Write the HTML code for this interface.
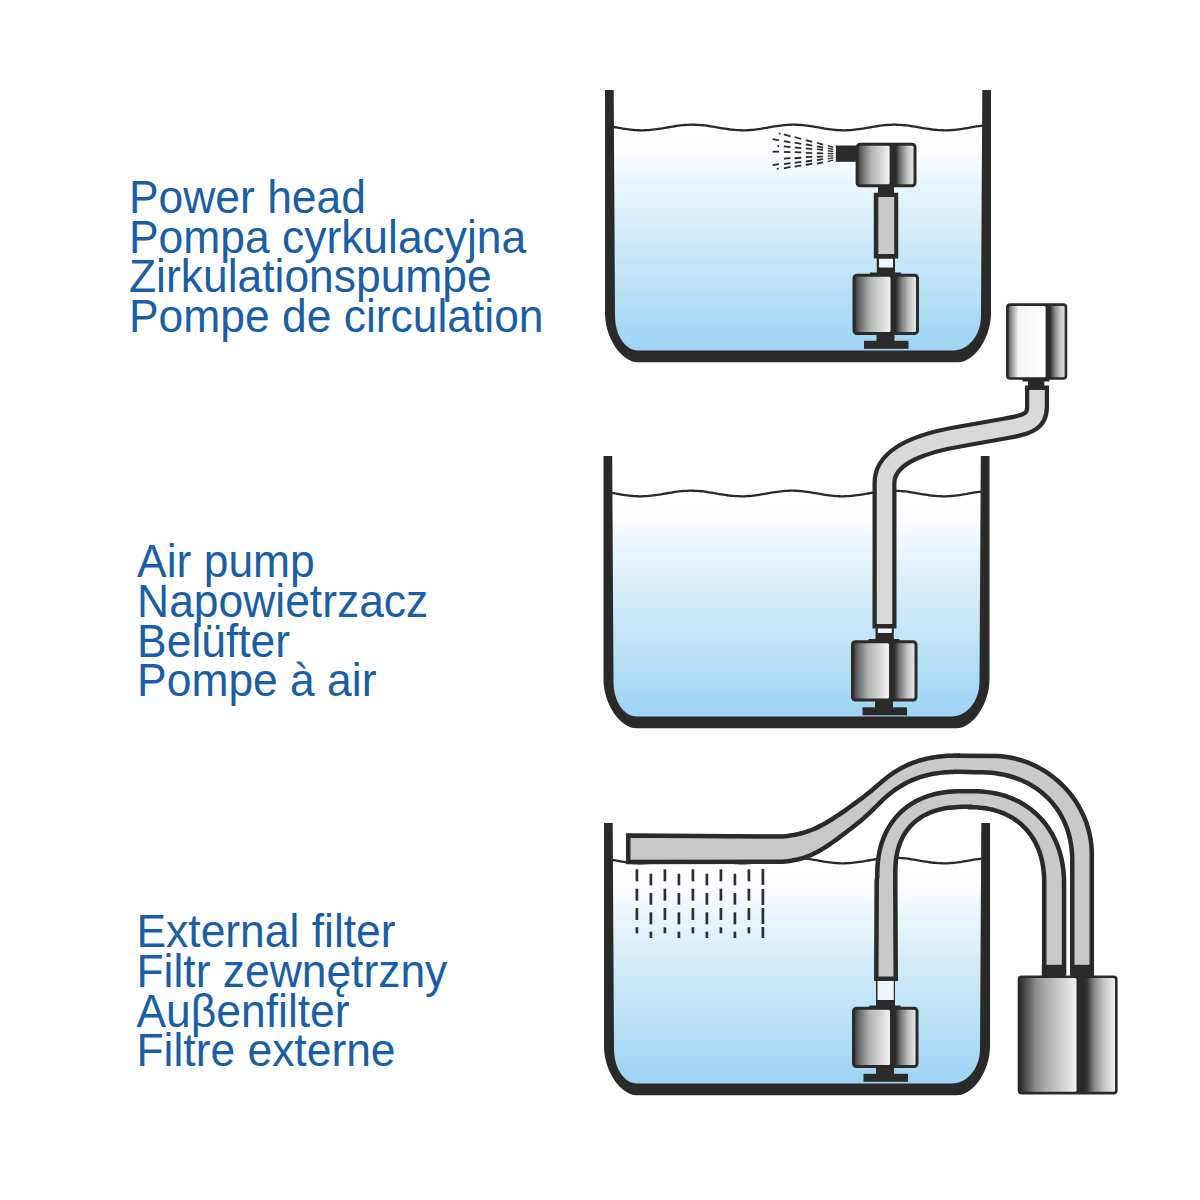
<!DOCTYPE html><html><head><meta charset="utf-8"><style>html,body{margin:0;padding:0;background:#fff;}svg{display:block;} text{font-variant-ligatures:none;}</style></head><body><svg width="1200" height="1200" viewBox="0 0 1200 1200"><defs><linearGradient id="wg1" gradientUnits="userSpaceOnUse" x1="0" y1="135" x2="0" y2="350"><stop offset="0" stop-color="#ffffff"/><stop offset="0.07" stop-color="#fdfeff"/><stop offset="0.19" stop-color="#eef7fc"/><stop offset="0.4" stop-color="#d8eefa"/><stop offset="0.58" stop-color="#c6e6f8"/><stop offset="0.75" stop-color="#b5dff6"/><stop offset="1" stop-color="#9dd4f3"/></linearGradient><linearGradient id="wg2" gradientUnits="userSpaceOnUse" x1="0" y1="501" x2="0" y2="716"><stop offset="0" stop-color="#ffffff"/><stop offset="0.07" stop-color="#fdfeff"/><stop offset="0.19" stop-color="#eef7fc"/><stop offset="0.4" stop-color="#d8eefa"/><stop offset="0.58" stop-color="#c6e6f8"/><stop offset="0.75" stop-color="#b5dff6"/><stop offset="1" stop-color="#9dd4f3"/></linearGradient><linearGradient id="wg3" gradientUnits="userSpaceOnUse" x1="0" y1="868" x2="0" y2="1083"><stop offset="0" stop-color="#ffffff"/><stop offset="0.07" stop-color="#fdfeff"/><stop offset="0.19" stop-color="#eef7fc"/><stop offset="0.4" stop-color="#d8eefa"/><stop offset="0.58" stop-color="#c6e6f8"/><stop offset="0.75" stop-color="#b5dff6"/><stop offset="1" stop-color="#9dd4f3"/></linearGradient><linearGradient id="bl1" gradientUnits="userSpaceOnUse" x1="853.5" y1="0" x2="890.5" y2="0"><stop offset="0" stop-color="#2e2e2e"/><stop offset="0.18" stop-color="#6e6e6e"/><stop offset="0.45" stop-color="#b4b4b4"/><stop offset="0.8" stop-color="#dcdcdc"/><stop offset="1" stop-color="#f4f4f4"/></linearGradient><linearGradient id="br1" gradientUnits="userSpaceOnUse" x1="896" y1="0" x2="918" y2="0"><stop offset="0" stop-color="#2e2e2e"/><stop offset="0.25" stop-color="#7a7a7a"/><stop offset="0.6" stop-color="#c4c4c4"/><stop offset="1" stop-color="#f2f2f2"/></linearGradient><linearGradient id="bl2" gradientUnits="userSpaceOnUse" x1="856.6" y1="0" x2="889.6" y2="0"><stop offset="0" stop-color="#2e2e2e"/><stop offset="0.18" stop-color="#6e6e6e"/><stop offset="0.45" stop-color="#b4b4b4"/><stop offset="0.8" stop-color="#dcdcdc"/><stop offset="1" stop-color="#f4f4f4"/></linearGradient><linearGradient id="br2" gradientUnits="userSpaceOnUse" x1="896" y1="0" x2="915.5" y2="0"><stop offset="0" stop-color="#2e2e2e"/><stop offset="0.25" stop-color="#7a7a7a"/><stop offset="0.6" stop-color="#c4c4c4"/><stop offset="1" stop-color="#f2f2f2"/></linearGradient><linearGradient id="bl3" gradientUnits="userSpaceOnUse" x1="852" y1="0" x2="889" y2="0"><stop offset="0" stop-color="#2e2e2e"/><stop offset="0.18" stop-color="#6e6e6e"/><stop offset="0.45" stop-color="#b4b4b4"/><stop offset="0.8" stop-color="#dcdcdc"/><stop offset="1" stop-color="#f4f4f4"/></linearGradient><linearGradient id="br3" gradientUnits="userSpaceOnUse" x1="894.5" y1="0" x2="916.5" y2="0"><stop offset="0" stop-color="#2e2e2e"/><stop offset="0.25" stop-color="#7a7a7a"/><stop offset="0.6" stop-color="#c4c4c4"/><stop offset="1" stop-color="#f2f2f2"/></linearGradient><linearGradient id="bl4" gradientUnits="userSpaceOnUse" x1="1007" y1="0" x2="1045.6" y2="0"><stop offset="0" stop-color="#3a3a3a"/><stop offset="0.1" stop-color="#8a8a8a"/><stop offset="0.3" stop-color="#f4f4f4"/><stop offset="1" stop-color="#ffffff"/></linearGradient><linearGradient id="br4" gradientUnits="userSpaceOnUse" x1="1050.2" y1="0" x2="1066.25" y2="0"><stop offset="0" stop-color="#2e2e2e"/><stop offset="0.3" stop-color="#8a8a8a"/><stop offset="0.65" stop-color="#c8c8c8"/><stop offset="1" stop-color="#e4e4e4"/></linearGradient><linearGradient id="bl5" gradientUnits="userSpaceOnUse" x1="853" y1="0" x2="890" y2="0"><stop offset="0" stop-color="#2e2e2e"/><stop offset="0.18" stop-color="#6e6e6e"/><stop offset="0.45" stop-color="#b4b4b4"/><stop offset="0.8" stop-color="#dcdcdc"/><stop offset="1" stop-color="#f4f4f4"/></linearGradient><linearGradient id="br5" gradientUnits="userSpaceOnUse" x1="895.5" y1="0" x2="917.5" y2="0"><stop offset="0" stop-color="#2e2e2e"/><stop offset="0.25" stop-color="#7a7a7a"/><stop offset="0.6" stop-color="#c4c4c4"/><stop offset="1" stop-color="#f2f2f2"/></linearGradient><clipPath id="ca"><path d="M874 981 L874.5 880 L875 876.3 L875.06 871.08 L875.25 866.73 L875.56 862.65 L875.99 858.77 L876.55 855.02 L877.23 851.4 L878.03 847.88 L878.95 844.46 L880 841.14 L881.16 837.91 L882.44 834.77 L883.84 831.73 L885.35 828.77 L886.97 825.91 L888.71 823.14 L890.56 820.47 L892.52 817.89 L894.59 815.41 L896.76 813.04 L899.04 810.76 L901.41 808.59 L903.89 806.52 L906.47 804.56 L909.14 802.71 L911.91 800.97 L914.77 799.35 L917.73 797.84 L920.77 796.44 L923.91 795.16 L927.14 794 L930.46 792.95 L933.88 792.03 L937.4 791.23 L941.02 790.55 L944.77 789.99 L948.65 789.56 L952.73 789.25 L957.08 789.06 L962.3 789 L972.4 789 L977.26 789.07 L981.6 789.29 L985.76 789.64 L989.78 790.14 L993.71 790.78 L997.54 791.56 L1001.28 792.48 L1004.94 793.53 L1008.51 794.73 L1012.01 796.06 L1015.42 797.52 L1018.74 799.12 L1021.97 800.84 L1025.11 802.7 L1028.16 804.68 L1031.11 806.78 L1033.96 809.01 L1036.7 811.35 L1039.34 813.81 L1041.88 816.39 L1044.3 819.07 L1046.61 821.86 L1048.8 824.75 L1050.87 827.75 L1052.82 830.85 L1054.64 834.04 L1056.34 837.32 L1057.91 840.7 L1059.35 844.16 L1060.66 847.71 L1061.84 851.34 L1062.88 855.06 L1063.78 858.86 L1064.55 862.75 L1065.18 866.74 L1065.67 870.83 L1066.02 875.05 L1066.23 879.46 L1066.3 884.4 L1066.3 975.5 L1042 975.5 L1042 884.4 L1041.95 879.81 L1041.79 876.02 L1041.53 872.49 L1041.17 869.13 L1040.7 865.89 L1040.13 862.77 L1039.45 859.74 L1038.68 856.81 L1037.8 853.95 L1036.82 851.18 L1035.75 848.49 L1034.57 845.88 L1033.3 843.35 L1031.93 840.9 L1030.47 838.53 L1028.91 836.25 L1027.26 834.05 L1025.52 831.93 L1023.69 829.9 L1021.78 827.95 L1019.77 826.1 L1017.68 824.34 L1015.51 822.67 L1013.25 821.09 L1010.92 819.6 L1008.5 818.22 L1006 816.93 L1003.43 815.74 L1000.77 814.65 L998.04 813.66 L995.23 812.77 L992.33 811.98 L989.34 811.3 L986.26 810.72 L983.07 810.25 L979.75 809.88 L976.27 809.61 L972.53 809.45 L968 809.4 L968 809 L962.6 809.04 L958.61 809.17 L955.03 809.39 L951.69 809.69 L948.54 810.08 L945.54 810.55 L942.67 811.11 L939.9 811.75 L937.24 812.48 L934.67 813.29 L932.2 814.19 L929.81 815.17 L927.51 816.23 L925.29 817.37 L923.16 818.6 L921.1 819.9 L919.13 821.29 L917.25 822.76 L915.44 824.3 L913.72 825.92 L912.08 827.63 L910.53 829.41 L909.06 831.26 L907.67 833.2 L906.38 835.21 L905.16 837.31 L904.04 839.48 L903 841.73 L902.05 844.06 L901.19 846.49 L900.42 849 L899.74 851.6 L899.14 854.32 L898.64 857.15 L898.23 860.12 L897.91 863.26 L897.68 866.64 L897.55 870.41 L897.5 875.5 L897.5 880 L898 981 Z"/></clipPath><clipPath id="co"><path d="M626 833.3 L780 834.37 L782.5 834.18 L785 833.95 L787.5 833.66 L790 833.32 L792.5 832.93 L795 832.47 L797.5 831.94 L800 831.34 L802.5 830.67 L805 829.92 L807.5 829.08 L810 828.16 L812.5 827.15 L815 826.05 L817.5 824.86 L820 823.59 L822.5 822.25 L825 820.83 L827.5 819.35 L830 817.82 L832.5 816.23 L835 814.6 L837.5 812.93 L840 811.22 L842.5 809.48 L845 807.72 L847.5 805.94 L850 804.15 L852.5 802.34 L855 800.53 L857.5 798.69 L860 796.82 L862.5 794.92 L865 792.97 L867.5 790.97 L870 788.91 L872.5 786.78 L875 784.62 L877.5 782.45 L880 780.3 L882.5 778.2 L885 776.19 L887.5 774.27 L890 772.47 L892.5 770.77 L895 769.17 L897.5 767.66 L900 766.26 L902.5 764.94 L905 763.72 L907.5 762.58 L910 761.52 L912.5 760.55 L915 759.65 L917.5 758.83 L920 758.07 L922.5 757.39 L925 756.77 L927.5 756.21 L930 755.71 L932.5 755.27 L935 754.88 L937.5 754.54 L940 754.25 L942.5 754 L945 753.79 L947.5 753.62 L950 753.49 L952.5 753.39 L955 753.31 L957.5 753.27 L960 753.24 L960 753.5 L993.6 753.7 L997.32 753.78 L1001.17 754.03 L1005.06 754.45 L1008.97 755.03 L1012.87 755.77 L1016.76 756.67 L1020.63 757.74 L1024.47 758.96 L1028.27 760.35 L1032.02 761.88 L1035.72 763.57 L1039.35 765.41 L1042.92 767.39 L1046.41 769.51 L1049.81 771.78 L1053.13 774.17 L1056.36 776.7 L1059.48 779.35 L1062.5 782.12 L1065.4 785.01 L1068.19 788.01 L1070.86 791.12 L1073.4 794.32 L1075.82 797.62 L1078.09 801.01 L1080.23 804.48 L1082.22 808.02 L1084.07 811.64 L1085.77 815.31 L1087.31 819.04 L1088.7 822.81 L1089.94 826.63 L1091.01 830.48 L1091.92 834.34 L1092.67 838.22 L1093.25 842.11 L1093.67 845.97 L1093.92 849.8 L1094 853.5 L1094 975.5 L1070 975.5 L1070 861.8 L1069.93 857.28 L1069.73 853.24 L1069.39 849.38 L1068.91 845.64 L1068.3 841.99 L1067.55 838.43 L1066.67 834.95 L1065.66 831.55 L1064.51 828.22 L1063.24 824.98 L1061.83 821.81 L1060.31 818.72 L1058.65 815.71 L1056.87 812.79 L1054.98 809.96 L1052.96 807.22 L1050.83 804.57 L1048.58 802.02 L1046.23 799.56 L1043.76 797.21 L1041.19 794.96 L1038.52 792.81 L1035.74 790.77 L1032.87 788.85 L1029.91 787.04 L1026.85 785.34 L1023.7 783.76 L1020.47 782.3 L1017.15 780.96 L1013.75 779.74 L1010.27 778.65 L1006.71 777.68 L1003.07 776.84 L999.34 776.13 L995.52 775.54 L991.6 775.09 L987.56 774.76 L983.33 774.57 L978.6 774.5 L975 774.5 L960 773.99 L957.5 774.01 L955 774.05 L952.5 774.13 L950 774.24 L947.5 774.39 L945 774.59 L942.5 774.82 L940 775.11 L937.5 775.45 L935 775.84 L932.5 776.3 L930 776.81 L927.5 777.4 L925 778.05 L922.5 778.77 L920 779.58 L917.5 780.46 L915 781.43 L912.5 782.48 L910 783.62 L907.5 784.86 L905 786.2 L902.5 787.64 L900 789.18 L897.5 790.83 L895 792.59 L892.5 794.47 L890 796.46 L887.5 798.58 L885 800.82 L882.5 803.19 L880 805.64 L877.5 808.15 L875 810.66 L872.5 813.14 L870 815.56 L867.5 817.87 L865 820.08 L862.5 822.22 L860 824.28 L857.5 826.29 L855 828.25 L852.5 830.19 L850 832.11 L847.5 834.02 L845 835.93 L842.5 837.82 L840 839.68 L837.5 841.52 L835 843.32 L832.5 845.08 L830 846.79 L827.5 848.44 L825 850.03 L822.5 851.55 L820 852.99 L817.5 854.35 L815 855.62 L812.5 856.79 L810 857.86 L807.5 858.83 L805 859.7 L802.5 860.48 L800 861.17 L797.5 861.77 L795 862.3 L792.5 862.76 L790 863.14 L787.5 863.47 L785 863.73 L782.5 863.95 L780 864.11 L626 864.2 Z"/></clipPath><linearGradient id="bl6" gradientUnits="userSpaceOnUse" x1="1018.7" y1="0" x2="1076.5" y2="0"><stop offset="0" stop-color="#2a2a2a"/><stop offset="0.07" stop-color="#3c3c3c"/><stop offset="0.3" stop-color="#8e8e8e"/><stop offset="0.5" stop-color="#b0b0b0"/><stop offset="0.8" stop-color="#d6d6d6"/><stop offset="1" stop-color="#f0f0f0"/></linearGradient><linearGradient id="br6" gradientUnits="userSpaceOnUse" x1="1082.5" y1="0" x2="1116.6" y2="0"><stop offset="0" stop-color="#2a2a2a"/><stop offset="0.13" stop-color="#333333"/><stop offset="0.35" stop-color="#8a8a8a"/><stop offset="0.62" stop-color="#c2c2c2"/><stop offset="1" stop-color="#f6f6f6"/></linearGradient></defs><rect width="1200" height="1200" fill="#ffffff"/><path d="M612.7 126.8 L614.7 127.14 L616.7 127.49 L618.7 127.84 L620.7 128.18 L622.7 128.51 L624.7 128.83 L626.7 129.12 L628.7 129.4 L630.7 129.64 L632.7 129.84 L634.7 130.02 L636.7 130.15 L638.7 130.24 L640.7 130.29 L642.7 130.3 L644.7 130.26 L646.7 130.18 L648.7 130.06 L650.7 129.9 L652.7 129.7 L654.7 129.47 L656.7 129.21 L658.7 128.92 L660.7 128.61 L662.7 128.28 L664.7 127.94 L666.7 127.6 L668.7 127.25 L670.7 126.9 L672.7 126.57 L674.7 126.25 L676.7 125.95 L678.7 125.67 L680.7 125.42 L682.7 125.2 L684.7 125.02 L686.7 124.88 L688.7 124.78 L690.7 124.72 L692.7 124.7 L694.7 124.73 L696.7 124.8 L698.7 124.91 L700.7 125.06 L702.7 125.25 L704.7 125.47 L706.7 125.72 L708.7 126.01 L710.7 126.31 L712.7 126.63 L714.7 126.97 L716.7 127.32 L718.7 127.67 L720.7 128.01 L722.7 128.35 L724.7 128.67 L726.7 128.98 L728.7 129.26 L730.7 129.52 L732.7 129.74 L734.7 129.93 L736.7 130.09 L738.7 130.2 L740.7 130.27 L742.7 130.3 L744.7 130.28 L746.7 130.23 L748.7 130.13 L750.7 129.98 L752.7 129.81 L754.7 129.59 L756.7 129.34 L758.7 129.07 L760.7 128.77 L762.7 128.45 L764.7 128.11 L766.7 127.77 L768.7 127.42 L770.7 127.07 L772.7 126.73 L774.7 126.41 L776.7 126.09 L778.7 125.81 L780.7 125.54 L782.7 125.31 L784.7 125.11 L786.7 124.95 L788.7 124.82 L790.7 124.74 L792.7 124.7 L794.7 124.71 L796.7 124.76 L798.7 124.85 L800.7 124.98 L802.7 125.15 L804.7 125.35 L806.7 125.59 L808.7 125.86 L810.7 126.16 L812.7 126.47 L814.7 126.8 L816.7 127.14 L818.7 127.49 L820.7 127.84 L822.7 128.18 L824.7 128.51 L826.7 128.83 L828.7 129.12 L830.7 129.4 L832.7 129.64 L834.7 129.84 L836.7 130.02 L838.7 130.15 L840.7 130.24 L842.7 130.29 L844.7 130.3 L846.7 130.26 L848.7 130.18 L850.7 130.06 L852.7 129.9 L854.7 129.7 L856.7 129.47 L858.7 129.21 L860.7 128.92 L862.7 128.61 L864.7 128.28 L866.7 127.94 L868.7 127.6 L870.7 127.25 L872.7 126.9 L874.7 126.57 L876.7 126.25 L878.7 125.95 L880.7 125.67 L882.7 125.42 L884.7 125.2 L886.7 125.02 L888.7 124.88 L890.7 124.78 L892.7 124.72 L894.7 124.7 L896.7 124.73 L898.7 124.8 L900.7 124.91 L902.7 125.06 L904.7 125.25 L906.7 125.47 L908.7 125.72 L910.7 126.01 L912.7 126.31 L914.7 126.63 L916.7 126.97 L918.7 127.32 L920.7 127.67 L922.7 128.01 L924.7 128.35 L926.7 128.67 L928.7 128.98 L930.7 129.26 L932.7 129.52 L934.7 129.74 L936.7 129.93 L938.7 130.09 L940.7 130.2 L942.7 130.27 L944.7 130.3 L946.7 130.28 L948.7 130.23 L950.7 130.13 L952.7 129.98 L954.7 129.81 L956.7 129.59 L958.7 129.34 L960.7 129.07 L962.7 128.77 L964.7 128.45 L966.7 128.11 L968.7 127.77 L970.7 127.42 L972.7 127.07 L974.7 126.73 L976.7 126.41 L978.7 126.09 L980.7 125.81 L982.7 125.54 L982 315.5 C982 335.1 968.68 351.5 953 351.5 L638 351.5 C625.12 351.5 614 335.1 614 315.5 Z" fill="url(#wg1)"/>
<path d="M612.7 126.8 L614.7 127.14 L616.7 127.49 L618.7 127.84 L620.7 128.18 L622.7 128.51 L624.7 128.83 L626.7 129.12 L628.7 129.4 L630.7 129.64 L632.7 129.84 L634.7 130.02 L636.7 130.15 L638.7 130.24 L640.7 130.29 L642.7 130.3 L644.7 130.26 L646.7 130.18 L648.7 130.06 L650.7 129.9 L652.7 129.7 L654.7 129.47 L656.7 129.21 L658.7 128.92 L660.7 128.61 L662.7 128.28 L664.7 127.94 L666.7 127.6 L668.7 127.25 L670.7 126.9 L672.7 126.57 L674.7 126.25 L676.7 125.95 L678.7 125.67 L680.7 125.42 L682.7 125.2 L684.7 125.02 L686.7 124.88 L688.7 124.78 L690.7 124.72 L692.7 124.7 L694.7 124.73 L696.7 124.8 L698.7 124.91 L700.7 125.06 L702.7 125.25 L704.7 125.47 L706.7 125.72 L708.7 126.01 L710.7 126.31 L712.7 126.63 L714.7 126.97 L716.7 127.32 L718.7 127.67 L720.7 128.01 L722.7 128.35 L724.7 128.67 L726.7 128.98 L728.7 129.26 L730.7 129.52 L732.7 129.74 L734.7 129.93 L736.7 130.09 L738.7 130.2 L740.7 130.27 L742.7 130.3 L744.7 130.28 L746.7 130.23 L748.7 130.13 L750.7 129.98 L752.7 129.81 L754.7 129.59 L756.7 129.34 L758.7 129.07 L760.7 128.77 L762.7 128.45 L764.7 128.11 L766.7 127.77 L768.7 127.42 L770.7 127.07 L772.7 126.73 L774.7 126.41 L776.7 126.09 L778.7 125.81 L780.7 125.54 L782.7 125.31 L784.7 125.11 L786.7 124.95 L788.7 124.82 L790.7 124.74 L792.7 124.7 L794.7 124.71 L796.7 124.76 L798.7 124.85 L800.7 124.98 L802.7 125.15 L804.7 125.35 L806.7 125.59 L808.7 125.86 L810.7 126.16 L812.7 126.47 L814.7 126.8 L816.7 127.14 L818.7 127.49 L820.7 127.84 L822.7 128.18 L824.7 128.51 L826.7 128.83 L828.7 129.12 L830.7 129.4 L832.7 129.64 L834.7 129.84 L836.7 130.02 L838.7 130.15 L840.7 130.24 L842.7 130.29 L844.7 130.3 L846.7 130.26 L848.7 130.18 L850.7 130.06 L852.7 129.9 L854.7 129.7 L856.7 129.47 L858.7 129.21 L860.7 128.92 L862.7 128.61 L864.7 128.28 L866.7 127.94 L868.7 127.6 L870.7 127.25 L872.7 126.9 L874.7 126.57 L876.7 126.25 L878.7 125.95 L880.7 125.67 L882.7 125.42 L884.7 125.2 L886.7 125.02 L888.7 124.88 L890.7 124.78 L892.7 124.72 L894.7 124.7 L896.7 124.73 L898.7 124.8 L900.7 124.91 L902.7 125.06 L904.7 125.25 L906.7 125.47 L908.7 125.72 L910.7 126.01 L912.7 126.31 L914.7 126.63 L916.7 126.97 L918.7 127.32 L920.7 127.67 L922.7 128.01 L924.7 128.35 L926.7 128.67 L928.7 128.98 L930.7 129.26 L932.7 129.52 L934.7 129.74 L936.7 129.93 L938.7 130.09 L940.7 130.2 L942.7 130.27 L944.7 130.3 L946.7 130.28 L948.7 130.23 L950.7 130.13 L952.7 129.98 L954.7 129.81 L956.7 129.59 L958.7 129.34 L960.7 129.07 L962.7 128.77 L964.7 128.45 L966.7 128.11 L968.7 127.77 L970.7 127.42 L972.7 127.07 L974.7 126.73 L976.7 126.41 L978.7 126.09 L980.7 125.81 L982.7 125.54" fill="none" stroke="#2a2a28" stroke-width="2.3"/>
<path d="M605 90 L605 313.3 C605 337.8 621.5 362.3 638 362.3 L958 362.3 C974.5 362.3 991 337.8 991 313.3 L991 90 L982.3 90 L981 315.5 C981 335.1 968.68 350.5 953 350.5 L638 350.5 C625.12 350.5 615 335.1 615 315.5 L613.7 90 Z" fill="#2a2a28"/>
<path d="M611.2 492.8 L613.2 493.14 L615.2 493.49 L617.2 493.84 L619.2 494.18 L621.2 494.51 L623.2 494.83 L625.2 495.12 L627.2 495.4 L629.2 495.64 L631.2 495.84 L633.2 496.02 L635.2 496.15 L637.2 496.24 L639.2 496.29 L641.2 496.3 L643.2 496.26 L645.2 496.18 L647.2 496.06 L649.2 495.9 L651.2 495.7 L653.2 495.47 L655.2 495.21 L657.2 494.92 L659.2 494.61 L661.2 494.28 L663.2 493.94 L665.2 493.6 L667.2 493.25 L669.2 492.9 L671.2 492.57 L673.2 492.25 L675.2 491.95 L677.2 491.67 L679.2 491.42 L681.2 491.2 L683.2 491.02 L685.2 490.88 L687.2 490.78 L689.2 490.72 L691.2 490.7 L693.2 490.73 L695.2 490.8 L697.2 490.91 L699.2 491.06 L701.2 491.25 L703.2 491.47 L705.2 491.72 L707.2 492.01 L709.2 492.31 L711.2 492.63 L713.2 492.97 L715.2 493.32 L717.2 493.67 L719.2 494.01 L721.2 494.35 L723.2 494.67 L725.2 494.98 L727.2 495.26 L729.2 495.52 L731.2 495.74 L733.2 495.93 L735.2 496.09 L737.2 496.2 L739.2 496.27 L741.2 496.3 L743.2 496.28 L745.2 496.23 L747.2 496.13 L749.2 495.98 L751.2 495.81 L753.2 495.59 L755.2 495.34 L757.2 495.07 L759.2 494.77 L761.2 494.45 L763.2 494.11 L765.2 493.77 L767.2 493.42 L769.2 493.07 L771.2 492.73 L773.2 492.41 L775.2 492.09 L777.2 491.81 L779.2 491.54 L781.2 491.31 L783.2 491.11 L785.2 490.95 L787.2 490.82 L789.2 490.74 L791.2 490.7 L793.2 490.71 L795.2 490.76 L797.2 490.85 L799.2 490.98 L801.2 491.15 L803.2 491.35 L805.2 491.59 L807.2 491.86 L809.2 492.16 L811.2 492.47 L813.2 492.8 L815.2 493.14 L817.2 493.49 L819.2 493.84 L821.2 494.18 L823.2 494.51 L825.2 494.83 L827.2 495.12 L829.2 495.4 L831.2 495.64 L833.2 495.84 L835.2 496.02 L837.2 496.15 L839.2 496.24 L841.2 496.29 L843.2 496.3 L845.2 496.26 L847.2 496.18 L849.2 496.06 L851.2 495.9 L853.2 495.7 L855.2 495.47 L857.2 495.21 L859.2 494.92 L861.2 494.61 L863.2 494.28 L865.2 493.94 L867.2 493.6 L869.2 493.25 L871.2 492.9 L873.2 492.57 L875.2 492.25 L877.2 491.95 L879.2 491.67 L881.2 491.42 L883.2 491.2 L885.2 491.02 L887.2 490.88 L889.2 490.78 L891.2 490.72 L893.2 490.7 L895.2 490.73 L897.2 490.8 L899.2 490.91 L901.2 491.06 L903.2 491.25 L905.2 491.47 L907.2 491.72 L909.2 492.01 L911.2 492.31 L913.2 492.63 L915.2 492.97 L917.2 493.32 L919.2 493.67 L921.2 494.01 L923.2 494.35 L925.2 494.67 L927.2 494.98 L929.2 495.26 L931.2 495.52 L933.2 495.74 L935.2 495.93 L937.2 496.09 L939.2 496.2 L941.2 496.27 L943.2 496.3 L945.2 496.28 L947.2 496.23 L949.2 496.13 L951.2 495.98 L953.2 495.81 L955.2 495.59 L957.2 495.34 L959.2 495.07 L961.2 494.77 L963.2 494.45 L965.2 494.11 L967.2 493.77 L969.2 493.42 L971.2 493.07 L973.2 492.73 L975.2 492.41 L977.2 492.09 L979.2 491.81 L981.2 491.54 L980.5 681.5 C980.5 701.1 967.18 717.5 951.5 717.5 L636.5 717.5 C623.62 717.5 612.5 701.1 612.5 681.5 Z" fill="url(#wg2)"/>
<path d="M611.2 492.8 L613.2 493.14 L615.2 493.49 L617.2 493.84 L619.2 494.18 L621.2 494.51 L623.2 494.83 L625.2 495.12 L627.2 495.4 L629.2 495.64 L631.2 495.84 L633.2 496.02 L635.2 496.15 L637.2 496.24 L639.2 496.29 L641.2 496.3 L643.2 496.26 L645.2 496.18 L647.2 496.06 L649.2 495.9 L651.2 495.7 L653.2 495.47 L655.2 495.21 L657.2 494.92 L659.2 494.61 L661.2 494.28 L663.2 493.94 L665.2 493.6 L667.2 493.25 L669.2 492.9 L671.2 492.57 L673.2 492.25 L675.2 491.95 L677.2 491.67 L679.2 491.42 L681.2 491.2 L683.2 491.02 L685.2 490.88 L687.2 490.78 L689.2 490.72 L691.2 490.7 L693.2 490.73 L695.2 490.8 L697.2 490.91 L699.2 491.06 L701.2 491.25 L703.2 491.47 L705.2 491.72 L707.2 492.01 L709.2 492.31 L711.2 492.63 L713.2 492.97 L715.2 493.32 L717.2 493.67 L719.2 494.01 L721.2 494.35 L723.2 494.67 L725.2 494.98 L727.2 495.26 L729.2 495.52 L731.2 495.74 L733.2 495.93 L735.2 496.09 L737.2 496.2 L739.2 496.27 L741.2 496.3 L743.2 496.28 L745.2 496.23 L747.2 496.13 L749.2 495.98 L751.2 495.81 L753.2 495.59 L755.2 495.34 L757.2 495.07 L759.2 494.77 L761.2 494.45 L763.2 494.11 L765.2 493.77 L767.2 493.42 L769.2 493.07 L771.2 492.73 L773.2 492.41 L775.2 492.09 L777.2 491.81 L779.2 491.54 L781.2 491.31 L783.2 491.11 L785.2 490.95 L787.2 490.82 L789.2 490.74 L791.2 490.7 L793.2 490.71 L795.2 490.76 L797.2 490.85 L799.2 490.98 L801.2 491.15 L803.2 491.35 L805.2 491.59 L807.2 491.86 L809.2 492.16 L811.2 492.47 L813.2 492.8 L815.2 493.14 L817.2 493.49 L819.2 493.84 L821.2 494.18 L823.2 494.51 L825.2 494.83 L827.2 495.12 L829.2 495.4 L831.2 495.64 L833.2 495.84 L835.2 496.02 L837.2 496.15 L839.2 496.24 L841.2 496.29 L843.2 496.3 L845.2 496.26 L847.2 496.18 L849.2 496.06 L851.2 495.9 L853.2 495.7 L855.2 495.47 L857.2 495.21 L859.2 494.92 L861.2 494.61 L863.2 494.28 L865.2 493.94 L867.2 493.6 L869.2 493.25 L871.2 492.9 L873.2 492.57 L875.2 492.25 L877.2 491.95 L879.2 491.67 L881.2 491.42 L883.2 491.2 L885.2 491.02 L887.2 490.88 L889.2 490.78 L891.2 490.72 L893.2 490.7 L895.2 490.73 L897.2 490.8 L899.2 490.91 L901.2 491.06 L903.2 491.25 L905.2 491.47 L907.2 491.72 L909.2 492.01 L911.2 492.31 L913.2 492.63 L915.2 492.97 L917.2 493.32 L919.2 493.67 L921.2 494.01 L923.2 494.35 L925.2 494.67 L927.2 494.98 L929.2 495.26 L931.2 495.52 L933.2 495.74 L935.2 495.93 L937.2 496.09 L939.2 496.2 L941.2 496.27 L943.2 496.3 L945.2 496.28 L947.2 496.23 L949.2 496.13 L951.2 495.98 L953.2 495.81 L955.2 495.59 L957.2 495.34 L959.2 495.07 L961.2 494.77 L963.2 494.45 L965.2 494.11 L967.2 493.77 L969.2 493.42 L971.2 493.07 L973.2 492.73 L975.2 492.41 L977.2 492.09 L979.2 491.81 L981.2 491.54" fill="none" stroke="#2a2a28" stroke-width="2.3"/>
<path d="M603.5 456 L603.5 679.3 C603.5 703.8 620 728.3 636.5 728.3 L956.5 728.3 C973 728.3 989.5 703.8 989.5 679.3 L989.5 456 L980.8 456 L979.5 681.5 C979.5 701.1 967.18 716.5 951.5 716.5 L636.5 716.5 C623.62 716.5 613.5 701.1 613.5 681.5 L612.2 456 Z" fill="#2a2a28"/>
<path d="M611.7 859.8 L613.7 860.14 L615.7 860.49 L617.7 860.84 L619.7 861.18 L621.7 861.51 L623.7 861.83 L625.7 862.12 L627.7 862.4 L629.7 862.64 L631.7 862.84 L633.7 863.02 L635.7 863.15 L637.7 863.24 L639.7 863.29 L641.7 863.3 L643.7 863.26 L645.7 863.18 L647.7 863.06 L649.7 862.9 L651.7 862.7 L653.7 862.47 L655.7 862.21 L657.7 861.92 L659.7 861.61 L661.7 861.28 L663.7 860.94 L665.7 860.6 L667.7 860.25 L669.7 859.9 L671.7 859.57 L673.7 859.25 L675.7 858.95 L677.7 858.67 L679.7 858.42 L681.7 858.2 L683.7 858.02 L685.7 857.88 L687.7 857.78 L689.7 857.72 L691.7 857.7 L693.7 857.73 L695.7 857.8 L697.7 857.91 L699.7 858.06 L701.7 858.25 L703.7 858.47 L705.7 858.72 L707.7 859.01 L709.7 859.31 L711.7 859.63 L713.7 859.97 L715.7 860.32 L717.7 860.67 L719.7 861.01 L721.7 861.35 L723.7 861.67 L725.7 861.98 L727.7 862.26 L729.7 862.52 L731.7 862.74 L733.7 862.93 L735.7 863.09 L737.7 863.2 L739.7 863.27 L741.7 863.3 L743.7 863.28 L745.7 863.23 L747.7 863.13 L749.7 862.98 L751.7 862.81 L753.7 862.59 L755.7 862.34 L757.7 862.07 L759.7 861.77 L761.7 861.45 L763.7 861.11 L765.7 860.77 L767.7 860.42 L769.7 860.07 L771.7 859.73 L773.7 859.41 L775.7 859.09 L777.7 858.81 L779.7 858.54 L781.7 858.31 L783.7 858.11 L785.7 857.95 L787.7 857.82 L789.7 857.74 L791.7 857.7 L793.7 857.71 L795.7 857.76 L797.7 857.85 L799.7 857.98 L801.7 858.15 L803.7 858.35 L805.7 858.59 L807.7 858.86 L809.7 859.16 L811.7 859.47 L813.7 859.8 L815.7 860.14 L817.7 860.49 L819.7 860.84 L821.7 861.18 L823.7 861.51 L825.7 861.83 L827.7 862.12 L829.7 862.4 L831.7 862.64 L833.7 862.84 L835.7 863.02 L837.7 863.15 L839.7 863.24 L841.7 863.29 L843.7 863.3 L845.7 863.26 L847.7 863.18 L849.7 863.06 L851.7 862.9 L853.7 862.7 L855.7 862.47 L857.7 862.21 L859.7 861.92 L861.7 861.61 L863.7 861.28 L865.7 860.94 L867.7 860.6 L869.7 860.25 L871.7 859.9 L873.7 859.57 L875.7 859.25 L877.7 858.95 L879.7 858.67 L881.7 858.42 L883.7 858.2 L885.7 858.02 L887.7 857.88 L889.7 857.78 L891.7 857.72 L893.7 857.7 L895.7 857.73 L897.7 857.8 L899.7 857.91 L901.7 858.06 L903.7 858.25 L905.7 858.47 L907.7 858.72 L909.7 859.01 L911.7 859.31 L913.7 859.63 L915.7 859.97 L917.7 860.32 L919.7 860.67 L921.7 861.01 L923.7 861.35 L925.7 861.67 L927.7 861.98 L929.7 862.26 L931.7 862.52 L933.7 862.74 L935.7 862.93 L937.7 863.09 L939.7 863.2 L941.7 863.27 L943.7 863.3 L945.7 863.28 L947.7 863.23 L949.7 863.13 L951.7 862.98 L953.7 862.81 L955.7 862.59 L957.7 862.34 L959.7 862.07 L961.7 861.77 L963.7 861.45 L965.7 861.11 L967.7 860.77 L969.7 860.42 L971.7 860.07 L973.7 859.73 L975.7 859.41 L977.7 859.09 L979.7 858.81 L981.7 858.54 L981 1048.5 C981 1068.1 967.68 1084.5 952 1084.5 L637 1084.5 C624.12 1084.5 613 1068.1 613 1048.5 Z" fill="url(#wg3)"/>
<path d="M611.7 859.8 L613.7 860.14 L615.7 860.49 L617.7 860.84 L619.7 861.18 L621.7 861.51 L623.7 861.83 L625.7 862.12 L627.7 862.4 L629.7 862.64 L631.7 862.84 L633.7 863.02 L635.7 863.15 L637.7 863.24 L639.7 863.29 L641.7 863.3 L643.7 863.26 L645.7 863.18 L647.7 863.06 L649.7 862.9 L651.7 862.7 L653.7 862.47 L655.7 862.21 L657.7 861.92 L659.7 861.61 L661.7 861.28 L663.7 860.94 L665.7 860.6 L667.7 860.25 L669.7 859.9 L671.7 859.57 L673.7 859.25 L675.7 858.95 L677.7 858.67 L679.7 858.42 L681.7 858.2 L683.7 858.02 L685.7 857.88 L687.7 857.78 L689.7 857.72 L691.7 857.7 L693.7 857.73 L695.7 857.8 L697.7 857.91 L699.7 858.06 L701.7 858.25 L703.7 858.47 L705.7 858.72 L707.7 859.01 L709.7 859.31 L711.7 859.63 L713.7 859.97 L715.7 860.32 L717.7 860.67 L719.7 861.01 L721.7 861.35 L723.7 861.67 L725.7 861.98 L727.7 862.26 L729.7 862.52 L731.7 862.74 L733.7 862.93 L735.7 863.09 L737.7 863.2 L739.7 863.27 L741.7 863.3 L743.7 863.28 L745.7 863.23 L747.7 863.13 L749.7 862.98 L751.7 862.81 L753.7 862.59 L755.7 862.34 L757.7 862.07 L759.7 861.77 L761.7 861.45 L763.7 861.11 L765.7 860.77 L767.7 860.42 L769.7 860.07 L771.7 859.73 L773.7 859.41 L775.7 859.09 L777.7 858.81 L779.7 858.54 L781.7 858.31 L783.7 858.11 L785.7 857.95 L787.7 857.82 L789.7 857.74 L791.7 857.7 L793.7 857.71 L795.7 857.76 L797.7 857.85 L799.7 857.98 L801.7 858.15 L803.7 858.35 L805.7 858.59 L807.7 858.86 L809.7 859.16 L811.7 859.47 L813.7 859.8 L815.7 860.14 L817.7 860.49 L819.7 860.84 L821.7 861.18 L823.7 861.51 L825.7 861.83 L827.7 862.12 L829.7 862.4 L831.7 862.64 L833.7 862.84 L835.7 863.02 L837.7 863.15 L839.7 863.24 L841.7 863.29 L843.7 863.3 L845.7 863.26 L847.7 863.18 L849.7 863.06 L851.7 862.9 L853.7 862.7 L855.7 862.47 L857.7 862.21 L859.7 861.92 L861.7 861.61 L863.7 861.28 L865.7 860.94 L867.7 860.6 L869.7 860.25 L871.7 859.9 L873.7 859.57 L875.7 859.25 L877.7 858.95 L879.7 858.67 L881.7 858.42 L883.7 858.2 L885.7 858.02 L887.7 857.88 L889.7 857.78 L891.7 857.72 L893.7 857.7 L895.7 857.73 L897.7 857.8 L899.7 857.91 L901.7 858.06 L903.7 858.25 L905.7 858.47 L907.7 858.72 L909.7 859.01 L911.7 859.31 L913.7 859.63 L915.7 859.97 L917.7 860.32 L919.7 860.67 L921.7 861.01 L923.7 861.35 L925.7 861.67 L927.7 861.98 L929.7 862.26 L931.7 862.52 L933.7 862.74 L935.7 862.93 L937.7 863.09 L939.7 863.2 L941.7 863.27 L943.7 863.3 L945.7 863.28 L947.7 863.23 L949.7 863.13 L951.7 862.98 L953.7 862.81 L955.7 862.59 L957.7 862.34 L959.7 862.07 L961.7 861.77 L963.7 861.45 L965.7 861.11 L967.7 860.77 L969.7 860.42 L971.7 860.07 L973.7 859.73 L975.7 859.41 L977.7 859.09 L979.7 858.81 L981.7 858.54" fill="none" stroke="#2a2a28" stroke-width="2.3"/>
<path d="M604 823 L604 1046.3 C604 1070.8 620.5 1095.3 637 1095.3 L957 1095.3 C973.5 1095.3 990 1070.8 990 1046.3 L990 823 L981.3 823 L980 1048.5 C980 1068.1 967.68 1083.5 952 1083.5 L637 1083.5 C624.12 1083.5 614 1068.1 614 1048.5 L612.7 823 Z" fill="#2a2a28"/>
<rect x="852.5" y="273.75" width="66.5" height="61.25" rx="4.5" fill="#2a2a28"/>
<rect x="855.5" y="276.75" width="35" height="55.25" rx="1.5" fill="url(#bl1)"/>
<rect x="896" y="276.75" width="20" height="55.25" rx="1.5" fill="url(#br1)"/>
<rect x="870" y="272.5" width="31" height="2.5" fill="#2a2a28" />
<rect x="876.5" y="334" width="18" height="7.5" fill="#2a2a28" />
<rect x="864" y="340.8" width="44.5" height="8" fill="#2a2a28" />
<rect x="876.8" y="256" width="18.2" height="18" fill="#2a2a28" />
<rect x="879" y="258.5" width="14" height="9" fill="#eef6fb" />
<rect x="873.8" y="192.75" width="24.4" height="65.75" fill="#2a2a28" />
<rect x="878.3" y="197" width="15.9" height="57" fill="#c9c9c9" />
<rect x="878" y="185" width="16" height="9" fill="#2a2a28" />
<rect x="835.8" y="145.5" width="22.2" height="16.3" fill="#2a2a28" />
<rect x="855.6" y="142.7" width="60.9" height="44.6" rx="4.5" fill="#2a2a28"/>
<rect x="858.6" y="145.7" width="31" height="38.6" rx="1.5" fill="url(#bl2)"/>
<rect x="896" y="145.7" width="17.5" height="38.6" rx="1.5" fill="url(#br2)"/>
<line x1="827.75" y1="145.68" x2="833.25" y2="147.32" stroke="#2a2a28" stroke-width="1.3"/>
<line x1="827.75" y1="148.25" x2="833.25" y2="149.35" stroke="#2a2a28" stroke-width="1.3"/>
<line x1="827.75" y1="150.9" x2="833.25" y2="151.5" stroke="#2a2a28" stroke-width="1.3"/>
<line x1="827.75" y1="153.52" x2="833.25" y2="153.68" stroke="#2a2a28" stroke-width="1.3"/>
<line x1="827.75" y1="156.19" x2="833.25" y2="155.81" stroke="#2a2a28" stroke-width="1.3"/>
<line x1="827.75" y1="158.84" x2="833.25" y2="157.96" stroke="#2a2a28" stroke-width="1.3"/>
<line x1="827.75" y1="161.41" x2="833.25" y2="160.2" stroke="#2a2a28" stroke-width="1.3"/>
<line x1="816.9" y1="142.77" x2="823.1" y2="144.63" stroke="#2a2a28" stroke-width="1.7"/>
<line x1="816.9" y1="146.38" x2="823.1" y2="147.62" stroke="#2a2a28" stroke-width="1.7"/>
<line x1="816.9" y1="149.26" x2="823.1" y2="149.94" stroke="#2a2a28" stroke-width="1.7"/>
<line x1="816.9" y1="153.21" x2="823.1" y2="153.39" stroke="#2a2a28" stroke-width="1.7"/>
<line x1="816.9" y1="156.92" x2="823.1" y2="156.48" stroke="#2a2a28" stroke-width="1.7"/>
<line x1="816.9" y1="160.2" x2="823.1" y2="159.2" stroke="#2a2a28" stroke-width="1.7"/>
<line x1="816.9" y1="163.68" x2="823.1" y2="162.32" stroke="#2a2a28" stroke-width="1.7"/>
<line x1="805.8" y1="140.04" x2="812.2" y2="141.96" stroke="#2a2a28" stroke-width="1.8"/>
<line x1="805.8" y1="144.36" x2="812.2" y2="145.64" stroke="#2a2a28" stroke-width="1.8"/>
<line x1="805.8" y1="148.35" x2="812.2" y2="149.05" stroke="#2a2a28" stroke-width="1.8"/>
<line x1="805.8" y1="152.9" x2="812.2" y2="153.1" stroke="#2a2a28" stroke-width="1.8"/>
<line x1="805.8" y1="157.22" x2="812.2" y2="156.78" stroke="#2a2a28" stroke-width="1.8"/>
<line x1="805.8" y1="161.51" x2="812.2" y2="160.49" stroke="#2a2a28" stroke-width="1.8"/>
<line x1="805.8" y1="165" x2="812.2" y2="163.6" stroke="#2a2a28" stroke-width="1.8"/>
<line x1="794.7" y1="137.01" x2="801.3" y2="138.99" stroke="#2a2a28" stroke-width="1.8"/>
<line x1="794.7" y1="142.64" x2="801.3" y2="143.96" stroke="#2a2a28" stroke-width="1.8"/>
<line x1="794.7" y1="147.34" x2="801.3" y2="148.06" stroke="#2a2a28" stroke-width="1.8"/>
<line x1="794.7" y1="152.2" x2="801.3" y2="152.4" stroke="#2a2a28" stroke-width="1.8"/>
<line x1="794.7" y1="158.23" x2="801.3" y2="157.77" stroke="#2a2a28" stroke-width="1.8"/>
<line x1="794.7" y1="162.83" x2="801.3" y2="161.77" stroke="#2a2a28" stroke-width="1.8"/>
<line x1="794.7" y1="166.73" x2="801.3" y2="165.27" stroke="#2a2a28" stroke-width="1.8"/>
<line x1="783.9" y1="134.31" x2="790.5" y2="136.29" stroke="#2a2a28" stroke-width="1.8"/>
<line x1="783.9" y1="141.04" x2="790.5" y2="142.36" stroke="#2a2a28" stroke-width="1.8"/>
<line x1="783.9" y1="146.34" x2="790.5" y2="147.06" stroke="#2a2a28" stroke-width="1.8"/>
<line x1="783.9" y1="151.9" x2="790.5" y2="152.1" stroke="#2a2a28" stroke-width="1.8"/>
<line x1="783.9" y1="158.53" x2="790.5" y2="158.07" stroke="#2a2a28" stroke-width="1.8"/>
<line x1="783.9" y1="164.23" x2="790.5" y2="163.17" stroke="#2a2a28" stroke-width="1.8"/>
<line x1="783.9" y1="168.43" x2="790.5" y2="166.97" stroke="#2a2a28" stroke-width="1.8"/>
<line x1="778.9" y1="133.46" x2="780.5" y2="133.94" stroke="#2a2a28" stroke-width="1.8"/>
<line x1="772.6" y1="139.06" x2="779" y2="140.34" stroke="#2a2a28" stroke-width="1.8"/>
<line x1="777.5" y1="145.92" x2="779.1" y2="146.08" stroke="#2a2a28" stroke-width="1.8"/>
<line x1="772.6" y1="151.7" x2="779" y2="151.7" stroke="#2a2a28" stroke-width="1.8"/>
<line x1="772.6" y1="165.21" x2="779" y2="164.19" stroke="#2a2a28" stroke-width="1.8"/>
<line x1="776.8" y1="168.88" x2="778.6" y2="168.52" stroke="#2a2a28" stroke-width="1.8"/>
<rect x="851" y="640.25" width="66.5" height="61.25" rx="4.5" fill="#2a2a28"/>
<rect x="854" y="643.25" width="35" height="55.25" rx="1.5" fill="url(#bl3)"/>
<rect x="894.5" y="643.25" width="20" height="55.25" rx="1.5" fill="url(#br3)"/>
<rect x="868.5" y="639" width="31" height="2.5" fill="#2a2a28" />
<rect x="875" y="700.5" width="18" height="7.5" fill="#2a2a28" />
<rect x="862.5" y="707.3" width="44.5" height="8" fill="#2a2a28" />
<rect x="875.5" y="626" width="18.3" height="15" fill="#2a2a28" />
<rect x="877.8" y="628" width="14" height="5" fill="#eef6fb" />
<path d="M1037 385.5 L1037 407 C1037 420 1030 424.5 1005 428.5 L960 436.5 C930 441.5 884.5 453 884.5 483 L884.5 628.5" fill="none" stroke="#2a2a28" stroke-width="24"/>
<path d="M1037 390 L1037 407 C1037 420 1030 424.5 1005 428.5 L960 436.5 C930 441.5 884.5 453 884.5 483 L884.5 624" fill="none" stroke="#d9d9d9" stroke-width="15.5"/>
<rect x="1028" y="378" width="16.3" height="9" fill="#2a2a28" />
<rect x="1022.5" y="378.5" width="27" height="3" fill="#2a2a28" />
<rect x="1006" y="303.3" width="61.25" height="76.45" rx="4" fill="#2a2a28"/>
<rect x="1008.6" y="305.9" width="37" height="71.25" rx="1.5" fill="url(#bl4)"/>
<rect x="1050.2" y="305.9" width="14.45" height="71.25" rx="1.5" fill="url(#br4)"/>
<rect x="852" y="1006.75" width="66.5" height="61.25" rx="4.5" fill="#2a2a28"/>
<rect x="855" y="1009.75" width="35" height="55.25" rx="1.5" fill="url(#bl5)"/>
<rect x="895.5" y="1009.75" width="20" height="55.25" rx="1.5" fill="url(#br5)"/>
<rect x="869.5" y="1005.5" width="31" height="2.5" fill="#2a2a28" />
<rect x="876" y="1067" width="18" height="7.5" fill="#2a2a28" />
<rect x="863.5" y="1073.8" width="44.5" height="8" fill="#2a2a28" />
<rect x="876" y="978" width="19" height="30" fill="#2a2a28" />
<rect x="877.5" y="980.6" width="16.25" height="19.4" fill="#eef6fb" />
<path d="M874 981 L874.5 880 L875 876.3 L875.06 871.08 L875.25 866.73 L875.56 862.65 L875.99 858.77 L876.55 855.02 L877.23 851.4 L878.03 847.88 L878.95 844.46 L880 841.14 L881.16 837.91 L882.44 834.77 L883.84 831.73 L885.35 828.77 L886.97 825.91 L888.71 823.14 L890.56 820.47 L892.52 817.89 L894.59 815.41 L896.76 813.04 L899.04 810.76 L901.41 808.59 L903.89 806.52 L906.47 804.56 L909.14 802.71 L911.91 800.97 L914.77 799.35 L917.73 797.84 L920.77 796.44 L923.91 795.16 L927.14 794 L930.46 792.95 L933.88 792.03 L937.4 791.23 L941.02 790.55 L944.77 789.99 L948.65 789.56 L952.73 789.25 L957.08 789.06 L962.3 789 L972.4 789 L977.26 789.07 L981.6 789.29 L985.76 789.64 L989.78 790.14 L993.71 790.78 L997.54 791.56 L1001.28 792.48 L1004.94 793.53 L1008.51 794.73 L1012.01 796.06 L1015.42 797.52 L1018.74 799.12 L1021.97 800.84 L1025.11 802.7 L1028.16 804.68 L1031.11 806.78 L1033.96 809.01 L1036.7 811.35 L1039.34 813.81 L1041.88 816.39 L1044.3 819.07 L1046.61 821.86 L1048.8 824.75 L1050.87 827.75 L1052.82 830.85 L1054.64 834.04 L1056.34 837.32 L1057.91 840.7 L1059.35 844.16 L1060.66 847.71 L1061.84 851.34 L1062.88 855.06 L1063.78 858.86 L1064.55 862.75 L1065.18 866.74 L1065.67 870.83 L1066.02 875.05 L1066.23 879.46 L1066.3 884.4 L1066.3 975.5 L1042 975.5 L1042 884.4 L1041.95 879.81 L1041.79 876.02 L1041.53 872.49 L1041.17 869.13 L1040.7 865.89 L1040.13 862.77 L1039.45 859.74 L1038.68 856.81 L1037.8 853.95 L1036.82 851.18 L1035.75 848.49 L1034.57 845.88 L1033.3 843.35 L1031.93 840.9 L1030.47 838.53 L1028.91 836.25 L1027.26 834.05 L1025.52 831.93 L1023.69 829.9 L1021.78 827.95 L1019.77 826.1 L1017.68 824.34 L1015.51 822.67 L1013.25 821.09 L1010.92 819.6 L1008.5 818.22 L1006 816.93 L1003.43 815.74 L1000.77 814.65 L998.04 813.66 L995.23 812.77 L992.33 811.98 L989.34 811.3 L986.26 810.72 L983.07 810.25 L979.75 809.88 L976.27 809.61 L972.53 809.45 L968 809.4 L968 809 L962.6 809.04 L958.61 809.17 L955.03 809.39 L951.69 809.69 L948.54 810.08 L945.54 810.55 L942.67 811.11 L939.9 811.75 L937.24 812.48 L934.67 813.29 L932.2 814.19 L929.81 815.17 L927.51 816.23 L925.29 817.37 L923.16 818.6 L921.1 819.9 L919.13 821.29 L917.25 822.76 L915.44 824.3 L913.72 825.92 L912.08 827.63 L910.53 829.41 L909.06 831.26 L907.67 833.2 L906.38 835.21 L905.16 837.31 L904.04 839.48 L903 841.73 L902.05 844.06 L901.19 846.49 L900.42 849 L899.74 851.6 L899.14 854.32 L898.64 857.15 L898.23 860.12 L897.91 863.26 L897.68 866.64 L897.55 870.41 L897.5 875.5 L897.5 880 L898 981 Z" fill="#c9c9c9" stroke="#2a2a28" stroke-width="9" clip-path="url(#ca)"/>
<path d="M626 833.3 L780 834.37 L782.5 834.18 L785 833.95 L787.5 833.66 L790 833.32 L792.5 832.93 L795 832.47 L797.5 831.94 L800 831.34 L802.5 830.67 L805 829.92 L807.5 829.08 L810 828.16 L812.5 827.15 L815 826.05 L817.5 824.86 L820 823.59 L822.5 822.25 L825 820.83 L827.5 819.35 L830 817.82 L832.5 816.23 L835 814.6 L837.5 812.93 L840 811.22 L842.5 809.48 L845 807.72 L847.5 805.94 L850 804.15 L852.5 802.34 L855 800.53 L857.5 798.69 L860 796.82 L862.5 794.92 L865 792.97 L867.5 790.97 L870 788.91 L872.5 786.78 L875 784.62 L877.5 782.45 L880 780.3 L882.5 778.2 L885 776.19 L887.5 774.27 L890 772.47 L892.5 770.77 L895 769.17 L897.5 767.66 L900 766.26 L902.5 764.94 L905 763.72 L907.5 762.58 L910 761.52 L912.5 760.55 L915 759.65 L917.5 758.83 L920 758.07 L922.5 757.39 L925 756.77 L927.5 756.21 L930 755.71 L932.5 755.27 L935 754.88 L937.5 754.54 L940 754.25 L942.5 754 L945 753.79 L947.5 753.62 L950 753.49 L952.5 753.39 L955 753.31 L957.5 753.27 L960 753.24 L960 753.5 L993.6 753.7 L997.32 753.78 L1001.17 754.03 L1005.06 754.45 L1008.97 755.03 L1012.87 755.77 L1016.76 756.67 L1020.63 757.74 L1024.47 758.96 L1028.27 760.35 L1032.02 761.88 L1035.72 763.57 L1039.35 765.41 L1042.92 767.39 L1046.41 769.51 L1049.81 771.78 L1053.13 774.17 L1056.36 776.7 L1059.48 779.35 L1062.5 782.12 L1065.4 785.01 L1068.19 788.01 L1070.86 791.12 L1073.4 794.32 L1075.82 797.62 L1078.09 801.01 L1080.23 804.48 L1082.22 808.02 L1084.07 811.64 L1085.77 815.31 L1087.31 819.04 L1088.7 822.81 L1089.94 826.63 L1091.01 830.48 L1091.92 834.34 L1092.67 838.22 L1093.25 842.11 L1093.67 845.97 L1093.92 849.8 L1094 853.5 L1094 975.5 L1070 975.5 L1070 861.8 L1069.93 857.28 L1069.73 853.24 L1069.39 849.38 L1068.91 845.64 L1068.3 841.99 L1067.55 838.43 L1066.67 834.95 L1065.66 831.55 L1064.51 828.22 L1063.24 824.98 L1061.83 821.81 L1060.31 818.72 L1058.65 815.71 L1056.87 812.79 L1054.98 809.96 L1052.96 807.22 L1050.83 804.57 L1048.58 802.02 L1046.23 799.56 L1043.76 797.21 L1041.19 794.96 L1038.52 792.81 L1035.74 790.77 L1032.87 788.85 L1029.91 787.04 L1026.85 785.34 L1023.7 783.76 L1020.47 782.3 L1017.15 780.96 L1013.75 779.74 L1010.27 778.65 L1006.71 777.68 L1003.07 776.84 L999.34 776.13 L995.52 775.54 L991.6 775.09 L987.56 774.76 L983.33 774.57 L978.6 774.5 L975 774.5 L960 773.99 L957.5 774.01 L955 774.05 L952.5 774.13 L950 774.24 L947.5 774.39 L945 774.59 L942.5 774.82 L940 775.11 L937.5 775.45 L935 775.84 L932.5 776.3 L930 776.81 L927.5 777.4 L925 778.05 L922.5 778.77 L920 779.58 L917.5 780.46 L915 781.43 L912.5 782.48 L910 783.62 L907.5 784.86 L905 786.2 L902.5 787.64 L900 789.18 L897.5 790.83 L895 792.59 L892.5 794.47 L890 796.46 L887.5 798.58 L885 800.82 L882.5 803.19 L880 805.64 L877.5 808.15 L875 810.66 L872.5 813.14 L870 815.56 L867.5 817.87 L865 820.08 L862.5 822.22 L860 824.28 L857.5 826.29 L855 828.25 L852.5 830.19 L850 832.11 L847.5 834.02 L845 835.93 L842.5 837.82 L840 839.68 L837.5 841.52 L835 843.32 L832.5 845.08 L830 846.79 L827.5 848.44 L825 850.03 L822.5 851.55 L820 852.99 L817.5 854.35 L815 855.62 L812.5 856.79 L810 857.86 L807.5 858.83 L805 859.7 L802.5 860.48 L800 861.17 L797.5 861.77 L795 862.3 L792.5 862.76 L790 863.14 L787.5 863.47 L785 863.73 L782.5 863.95 L780 864.11 L626 864.2 Z" fill="#c9c9c9" stroke="#2a2a28" stroke-width="9" clip-path="url(#co)"/>
<rect x="1041.8" y="964.8" width="23.2" height="12.2" fill="#2a2a28" />
<rect x="1071" y="964.8" width="22.8" height="12.2" fill="#2a2a28" />
<rect x="1017.7" y="975.4" width="99.9" height="119" rx="4" fill="#2a2a28"/>
<rect x="1020.3" y="978" width="56.2" height="113.8" rx="1.5" fill="url(#bl6)"/>
<rect x="1082.5" y="978" width="32.5" height="113.8" rx="1.5" fill="url(#br6)"/>
<rect x="635.55" y="869.3" width="2.7" height="12" fill="#2b3033"/>
<rect x="635.55" y="888.7" width="2.7" height="12" fill="#2b3033"/>
<rect x="635.55" y="908" width="2.7" height="12" fill="#2b3033"/>
<rect x="635.55" y="927.3" width="2.7" height="6" fill="#2b3033"/>
<rect x="649.55" y="873.7" width="2.7" height="11.6" fill="#2b3033"/>
<rect x="649.55" y="893" width="2.7" height="11.7" fill="#2b3033"/>
<rect x="649.55" y="912.3" width="2.7" height="12" fill="#2b3033"/>
<rect x="649.55" y="931.7" width="2.7" height="6.3" fill="#2b3033"/>
<rect x="663.55" y="869.3" width="2.7" height="12" fill="#2b3033"/>
<rect x="663.55" y="888.7" width="2.7" height="12" fill="#2b3033"/>
<rect x="663.55" y="908" width="2.7" height="12" fill="#2b3033"/>
<rect x="663.55" y="927.3" width="2.7" height="6" fill="#2b3033"/>
<rect x="677.55" y="873.7" width="2.7" height="11.6" fill="#2b3033"/>
<rect x="677.55" y="893" width="2.7" height="11.7" fill="#2b3033"/>
<rect x="677.55" y="912.3" width="2.7" height="12" fill="#2b3033"/>
<rect x="677.55" y="931.7" width="2.7" height="6.3" fill="#2b3033"/>
<rect x="691.55" y="869.3" width="2.7" height="12" fill="#2b3033"/>
<rect x="691.55" y="888.7" width="2.7" height="12" fill="#2b3033"/>
<rect x="691.55" y="908" width="2.7" height="12" fill="#2b3033"/>
<rect x="691.55" y="927.3" width="2.7" height="6" fill="#2b3033"/>
<rect x="705.55" y="873.7" width="2.7" height="11.6" fill="#2b3033"/>
<rect x="705.55" y="893" width="2.7" height="11.7" fill="#2b3033"/>
<rect x="705.55" y="912.3" width="2.7" height="12" fill="#2b3033"/>
<rect x="705.55" y="931.7" width="2.7" height="6.3" fill="#2b3033"/>
<rect x="719.55" y="869.3" width="2.7" height="12" fill="#2b3033"/>
<rect x="719.55" y="888.7" width="2.7" height="12" fill="#2b3033"/>
<rect x="719.55" y="908" width="2.7" height="12" fill="#2b3033"/>
<rect x="719.55" y="927.3" width="2.7" height="6" fill="#2b3033"/>
<rect x="733.55" y="873.7" width="2.7" height="11.6" fill="#2b3033"/>
<rect x="733.55" y="893" width="2.7" height="11.7" fill="#2b3033"/>
<rect x="733.55" y="912.3" width="2.7" height="12" fill="#2b3033"/>
<rect x="733.55" y="931.7" width="2.7" height="6.3" fill="#2b3033"/>
<rect x="747.55" y="869.3" width="2.7" height="12" fill="#2b3033"/>
<rect x="747.55" y="888.7" width="2.7" height="12" fill="#2b3033"/>
<rect x="747.55" y="908" width="2.7" height="12" fill="#2b3033"/>
<rect x="747.55" y="927.3" width="2.7" height="6" fill="#2b3033"/>
<rect x="761.55" y="869" width="2.7" height="16" fill="#2b3033"/>
<rect x="761.55" y="889" width="2.7" height="16" fill="#2b3033"/>
<rect x="761.55" y="908" width="2.7" height="16" fill="#2b3033"/>
<rect x="761.55" y="927" width="2.7" height="11" fill="#2b3033"/>
<text transform="translate(129 213.1) scale(1 1.03)" fill="#1a5ea6" font-family="Liberation Sans, sans-serif" font-size="44.4">Power head</text>
<text transform="translate(129 252.8) scale(1 1.03)" fill="#1a5ea6" font-family="Liberation Sans, sans-serif" font-size="44.4">Pompa cyrkulacyjna</text>
<text transform="translate(129 292.4) scale(1 1.03)" fill="#1a5ea6" font-family="Liberation Sans, sans-serif" font-size="44.4">Zirkulationspumpe</text>
<text transform="translate(129 332.1) scale(1 1.03)" fill="#1a5ea6" font-family="Liberation Sans, sans-serif" font-size="44.4">Pompe de circulation</text>
<text transform="translate(137.1 577.1) scale(1 1.03)" fill="#1a5ea6" font-family="Liberation Sans, sans-serif" font-size="44.4">Air pump</text>
<text transform="translate(137.1 616.8) scale(1 1.03)" fill="#1a5ea6" font-family="Liberation Sans, sans-serif" font-size="44.4">Napowietrzacz</text>
<text transform="translate(137.1 656.6) scale(1 1.03)" fill="#1a5ea6" font-family="Liberation Sans, sans-serif" font-size="44.4">Belüfter</text>
<text transform="translate(137.1 696.3) scale(1 1.03)" fill="#1a5ea6" font-family="Liberation Sans, sans-serif" font-size="44.4">Pompe à air</text>
<text transform="translate(136.5 946.6) scale(1 1.03)" fill="#1a5ea6" font-family="Liberation Sans, sans-serif" font-size="44.4">External f&#8204;ilter</text>
<text transform="translate(136.5 986.5) scale(1 1.03)" fill="#1a5ea6" font-family="Liberation Sans, sans-serif" font-size="44.4">Filtr zewnętrzny</text>
<text transform="translate(136.5 1026.5) scale(1 1.03)" fill="#1a5ea6" font-family="Liberation Sans, sans-serif" font-size="44.4">Auβenf&#8204;ilter</text>
<text transform="translate(136.5 1066.3) scale(1 1.03)" fill="#1a5ea6" font-family="Liberation Sans, sans-serif" font-size="44.4">Filtre externe</text></svg></body></html>
